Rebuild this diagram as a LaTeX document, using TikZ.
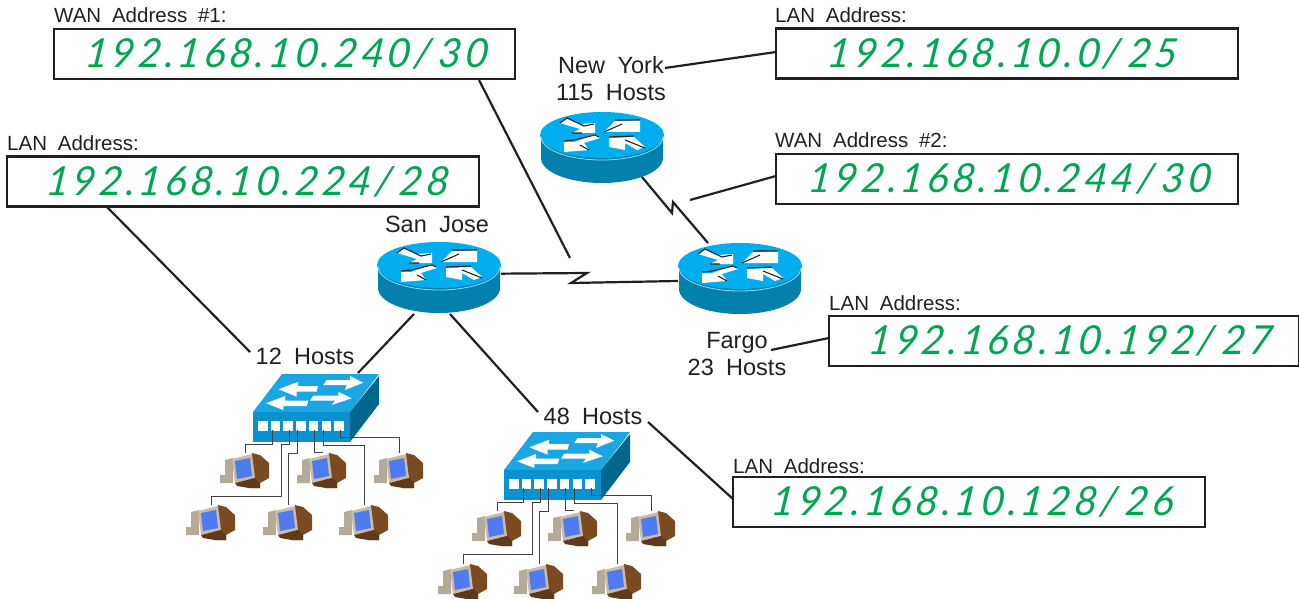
\documentclass[tikz,border=0pt]{standalone}
\usepackage{fontspec}
\setmainfont[WordSpace=1.9]{Liberation Sans}
\newfontfamily\handfont[LetterSpace=8.5,FakeSlant=0.12]{Lato Italic}
\usetikzlibrary{shapes.geometric,calc}
\definecolor{ink}{HTML}{231F20}
\definecolor{addrgreen}{HTML}{00A651}
\definecolor{rtop}{HTML}{00AEEF}
\definecolor{rside}{HTML}{0480AC}
\definecolor{swtop}{HTML}{1AA5E3}
\definecolor{swfront}{HTML}{0A92D0}
\definecolor{swside}{HTML}{00678C}
\definecolor{pcbrown}{HTML}{7A4A20}
\definecolor{pcdark}{HTML}{5E3A1A}
\definecolor{pcframe}{HTML}{C9BBA6}
\definecolor{pctower}{HTML}{B5AA98}
\definecolor{pcscreen}{HTML}{4F7BF0}
\tikzset{
  x=1pt,y=-1pt,
  conn/.style={draw=ink,line width=2.2pt},
  wire/.style={draw=ink!85,line width=1pt},
  addrbox/.style={draw=ink,line width=2.4pt,fill=white,inner sep=0pt,minimum height=50pt,font=\handfont\fontsize{40}{40}\selectfont,text=addrgreen},
  caption/.style={anchor=base west,inner sep=0pt,text=ink,font=\fontsize{20.5}{20.5}\selectfont},
  place/.style={inner sep=0pt,text=ink,font=\fontsize{23.5}{26}\selectfont,align=center},
  routerbox/.style={ellipse,minimum width=124pt,minimum height=72pt,inner sep=0pt},
  switchbox/.style={rectangle,minimum width=126pt,minimum height=68pt,inner sep=0pt},
  pcbox/.style={rectangle,minimum width=50pt,minimum height=36pt,inner sep=0pt},
  arrowfill/.style={fill=white,draw=none},
  arrowedge/.style={draw=ink,line width=1.1pt},
  router/.pic={
    \fill[rside] (-61,-13) -- (-61,10) arc[start angle=180,end angle=360,x radius=61pt,y radius=25pt] -- (61,-13) -- cycle;
    \fill[rtop] (0,-13) ellipse[x radius=62pt,y radius=23pt];
    \draw[rtop!45!white,line width=.8pt] (-61,-11) arc[start angle=180,end angle=360,x radius=61pt,y radius=23pt];
    \fill[arrowfill] (-42,-25) -- (-35,-30) -- (-22,-24) -- (-7,-25) -- (-7,-15) -- (-30,-15) -- (-22,-19) -- cycle;
    \fill[arrowfill] (-38,-6) -- (-28,-6) -- (-8,-13) -- (-2,-10) -- (-18,-5) -- (-13,2) -- (-38,4) -- cycle;
    \fill[arrowfill] (2,-16) -- (13,-27) -- (38,-28) -- (38,-16) -- (17,-16) -- cycle;
    \fill[arrowfill] (7,-10) -- (32,-11) -- (43,-1) -- (35,2) -- (23,-5) -- (23,2) -- (7,-1) -- cycle;
    \draw[arrowedge] (-42,-25) -- (-35,-30) -- (-18,-22) -- (-8,-24) (-30,-15) -- (-20,-15);
    \draw[arrowedge] (-38,-7) -- (-28,-8) -- (-7,-13) -- (-3,-11) (-22,-3) -- (-13,2);
    \draw[arrowedge] (13,-28) -- (38,-28) (2,-16) -- (20,-24);
    \draw[arrowedge] (7,-11) -- (32,-12) (23,-8) -- (43,0);
  },
  switchicon/.pic={
    \fill[swtop] (0,0) -- (29,-38) -- (126,-38) -- (97,0) -- cycle;
    \fill[swside] (97,0) -- (126,-36) -- (126,-8) -- (97,30) -- cycle;
    \fill[swfront] (0,0) rectangle (97,30);
    \fill[white] (25.3,-22.7) -- (45.3,-30.3) -- (45,-26) -- (65,-26) -- (63.7,-20.3) -- (43.7,-20.3) -- (43.7,-15.3) -- cycle;
    \fill[white] (13,-8.7) -- (32,-16) -- (32,-11.3) -- (55.3,-11.3) -- (53.7,-6) -- (30.3,-6) -- (30.3,-2) -- cycle;
    \fill[white] (110.3,-29.3) -- (97,-36) -- (97,-32) -- (73.7,-32) -- (70.3,-27) -- (93.7,-27) -- (92,-22) -- cycle;
    \fill[white] (98.7,-13.7) -- (85.3,-20.3) -- (85.3,-16.3) -- (60.3,-16.3) -- (57,-11.3) -- (82,-11.3) -- (78.7,-7) -- cycle;
    \foreach \k in {0,...,6} \fill[white] (5+\k*12.7,9) rectangle ++(9.5,10);
  },
  pcicon/.pic={
    \fill[pcbrown] (7,-18) -- (15,-16) -- (24,-8) -- (24,7) -- (15,12) -- (15,17) -- (4,17) -- (0,13) -- cycle;
    \fill[pctower] (-20,-11) -- (-12,-13) -- (-12,12) -- (-25,12) -- (-25,4) -- (-20,4) -- cycle;
    \fill[pcframe] (-13,-12) -- (7,-17) -- (10,7) -- (-10,12) -- cycle;
    \fill[pcscreen] (-10,-10) -- (5,-13) -- (7,5) -- (-8,8) -- cycle;
    \fill[pcdark] (-10,12) -- (10,7) -- (15,12) -- (15,17) -- (4,17) -- (-8,15) -- cycle;
  },
}
\begin{document}
\begin{tikzpicture}
\useasboundingbox (0,0) rectangle (1299,599);
% devices
\node[routerbox] (sj) at (439,278) {}; \pic at (sj) {router};
\node[routerbox] (ny) at (602,148) {}; \pic at (ny) {router};
\node[routerbox] (fg) at (740,279) {}; \pic at (fg) {router};
\coordinate (sw1a) at (253,412); \node[switchbox] (sw1) at ($(sw1a)+(63,-4)$) {};
\pic at (sw1a) {switchicon};
\coordinate (sw2a) at (504,470); \node[switchbox] (sw2) at ($(sw2a)+(63,-4)$) {};
\pic at (sw2a) {switchicon};
% PCs
\foreach \n/\px/\py in {a/245/471,b/322/471,c/399/471,d/211/523,e/288/523,f/364/523}{
  \node[pcbox] (one\n) at (\px,\py) {}; \pic at (one\n) {pcicon};
}
\foreach \n/\px/\py in {a/497/529,b/573/529,c/651/529,d/463/582,e/539/582,f/617/582}{
  \node[pcbox] (two\n) at (\px,\py) {}; \pic at (two\n) {pcicon};
}
% wires
\foreach \sw/\pre in {sw1a/one,sw2a/two}{
  \draw[wire] ($(\sw)+(19,18)$) -- ($(\sw)+(19,32)$) -| (\pre a.north);
  \draw[wire] ($(\sw)+(36,18)$) -- ($(\sw)+(36,32)$) -- ($(\sw)+(28,32)$) -- ($(\sw)+(28,84)$) -| (\pre d.north);
  \draw[wire] ($(\sw)+(44,18)$) -- ($(\sw)+(44,41)$) -| (\pre e.north);
  \draw[wire] ($(\sw)+(61,18)$) |- ($(\pre b.north)+(1,0)$);
  \draw[wire] ($(\sw)+(70,18)$) -- ($(\sw)+(70,33)$) -| (\pre f.north);
  \draw[wire] ($(\sw)+(87,18)$) -- ($(\sw)+(87,25)$) -| (\pre c.north);
}
% address boxes
\node[addrbox,minimum width=461pt] (wanone) at (284.5,54) {\kern3pt 192.168.10.240/\kern8pt 30};
\node[caption] (wanonecap) at (54,23) {WAN Address \#1:};
\node[addrbox,minimum width=472pt] (lanb) at (243,181.5) {\kern8pt 192.168.10.224/\kern8pt 28};
\node[caption] (lanbcap) at (7,150) {LAN Address:};
\node[addrbox,minimum width=462pt] (lana) at (1007,53.5) {192.168.10.0/\kern8pt 25\kern10pt};
\node[caption] (lanacap) at (775,23) {LAN Address:};
\node[addrbox,minimum width=462pt] (wantwo) at (1007,179) {\kern4pt 192.168.10.244/\kern8pt 30};
\node[caption] (wantwocap) at (775,148) {WAN Address \#2:};
\node[addrbox,minimum width=470pt] (lanc) at (1064,341) {\kern11pt 192.168.10.192/\kern8pt 27};
\node[caption] (lanccap) at (829,310) {LAN Address:};
\node[addrbox,minimum width=472pt] (land) at (969,502) {\kern5pt 192.168.10.128/\kern8pt 26};
\node[caption] (landcap) at (733,473) {LAN Address:};
% place labels
\node[place] (nylab) at (611,79) {New York\\[1pt]115 Hosts};
\node[place] (sjlab) at (437,224) {San Jose};
\node[place] (fglab) at (737,354) {Fargo\\[1pt]23 Hosts};
\node[place] (hosts12) at (305,356) {12 Hosts};
\node[place] (hosts48) at (593,416) {48 Hosts};
% free ends
\coordinate (wanonetip) at (570,258);
\coordinate (wantwotip) at (690,200);
% connectors
\draw[conn] (479,80) -- (wanonetip);
\draw[conn] (776,176) -- (wantwotip);
\draw[conn,line join=miter] (sj.4) -- (587,273) -- (571,283) -- (fg.west |- 0,281);
\draw[conn,line join=miter] (642,177) -- (672,213) -- (673,202) -- (708,243);
\draw[conn] (665,68) -- (776,52);
\draw[conn] (771,350) -- (829,338);
\draw[conn] (107,207) -- (250,352);
\draw[conn] (358,373) -- (414,314);
\draw[conn] (450,314) -- (538,412);
\draw[conn] (648,422) -- (733,499);
\end{tikzpicture}
\end{document}
